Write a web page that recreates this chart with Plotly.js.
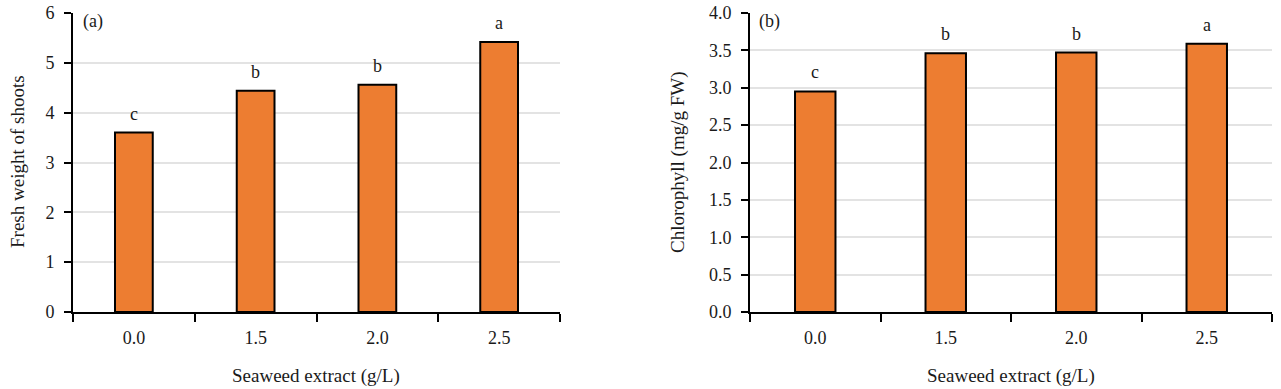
<!DOCTYPE html>
<html>
<head>
<meta charset="utf-8">
<script src="https://cdn.plot.ly/plotly-3.0.1.min.js"></script>
<style>html,body{margin:0;padding:0;background:#fff;}#chart{width:1281px;height:389px;}</style>
</head>
<body>
<div id="chart"></div>
<script>
// ---- data ----
const categories = ["0.0", "1.5", "2.0", "2.5"];
const freshWeight = [3.60, 4.44, 4.56, 5.42];
const freshLetters = ["c", "b", "b", "a"];
const chlorophyll = [2.95, 3.46, 3.47, 3.59];
const chloroLetters = ["c", "b", "b", "a"];
const panelLabels = ["(a)", "(b)"];
const xTitle = "Seaweed extract (g/L)";
const yTitleA = "Fresh weight of shoots";
const yTitleB = "Chlorophyll (mg/g FW)";
const yTicksA = [0, 1, 2, 3, 4, 5, 6];
const yTicksB = [0, 0.5, 1, 1.5, 2, 2.5, 3, 3.5, 4];

const W = 1281, H = 389;
const FONT = "Liberation Serif, Times New Roman, serif";
const TXT = "#1a1a1a";
const orange = "#ED7D31";

const barStyle = {
  type: "bar",
  marker: {color: orange, line: {color: "#000", width: 2}},
  width: 0.31,
  hoverinfo: "skip"
};

const traces = [
  Object.assign({}, barStyle, {x: categories, y: freshWeight, xaxis: "x", yaxis: "y"}),
  Object.assign({}, barStyle, {x: categories, y: chlorophyll, xaxis: "x2", yaxis: "y2"})
];

const yDom = [1 - 312 / H, 1 - 13 / H];

function xaxisDef(domain, anchor) {
  return {
    domain: domain,
    anchor: anchor,
    type: "category",
    tickson: "boundaries",
    ticks: "outside",
    ticklen: 8,
    tickwidth: 2,
    tickcolor: "#000",
    ticklabelstandoff: 8,
    showline: true,
    linecolor: "#000",
    linewidth: 2,
    showgrid: false,
    zeroline: false,
    tickfont: {family: FONT, size: 18, color: TXT},
    fixedrange: true
  };
}
function yaxisDef(range, ticks, fmt, anchor) {
  return {
    domain: yDom,
    anchor: anchor,
    range: range,
    tickvals: ticks,
    tickformat: fmt,
    ticks: "outside",
    ticklen: 7,
    tickwidth: 2,
    tickcolor: "#000",
    ticklabelstandoff: 6,
    showline: true,
    linecolor: "#000",
    linewidth: 2,
    showgrid: true,
    gridcolor: "#e3e3e3",
    gridwidth: 2,
    zeroline: false,
    tickfont: {family: FONT, size: 18, color: TXT},
    fixedrange: true
  };
}

const annotations = [];
categories.forEach((c, i) => {
  annotations.push({xref: "x", yref: "y", x: i, y: freshWeight[i], text: freshLetters[i],
    showarrow: false, yanchor: "bottom", yshift: 7, font: {family: FONT, size: 18, color: TXT}});
  annotations.push({xref: "x2", yref: "y2", x: i, y: chlorophyll[i], text: chloroLetters[i],
    showarrow: false, yanchor: "bottom", yshift: 7, font: {family: FONT, size: 18, color: TXT}});
});
annotations.push({xref: "paper", yref: "paper", x: 81 / W, y: 1 - 9 / H, xanchor: "left", yanchor: "top",
  text: panelLabels[0], showarrow: false, font: {family: FONT, size: 18, color: TXT}});
annotations.push({xref: "paper", yref: "paper", x: 757 / W, y: 1 - 9 / H, xanchor: "left", yanchor: "top",
  text: panelLabels[1], showarrow: false, font: {family: FONT, size: 18, color: TXT}});
annotations.push({xref: "paper", yref: "paper", x: 17 / W, y: 1 - 162 / H, xanchor: "center", yanchor: "middle",
  text: yTitleA, textangle: -90, showarrow: false, font: {family: FONT, size: 19, color: TXT}});
annotations.push({xref: "paper", yref: "paper", x: 678 / W, y: 1 - 162 / H, xanchor: "center", yanchor: "middle",
  text: yTitleB, textangle: -90, showarrow: false, font: {family: FONT, size: 19, color: TXT}});
annotations.push({xref: "paper", yref: "paper", x: 316 / W, y: 1 - 376 / H, xanchor: "center", yanchor: "middle",
  text: xTitle, showarrow: false, font: {family: FONT, size: 19, color: TXT}});
annotations.push({xref: "paper", yref: "paper", x: 1011 / W, y: 1 - 376 / H, xanchor: "center", yanchor: "middle",
  text: xTitle, showarrow: false, font: {family: FONT, size: 19, color: TXT}});

const layout = {
  width: W, height: H,
  margin: {l: 0, r: 0, t: 0, b: 0},
  paper_bgcolor: "#fff",
  plot_bgcolor: "#fff",
  showlegend: false,
  xaxis: xaxisDef([73 / W, 560 / W], "y"),
  xaxis2: xaxisDef([750 / W, 1272 / W], "y2"),
  yaxis: yaxisDef([0, 6], yTicksA, "d", "x"),
  yaxis2: yaxisDef([0, 4], yTicksB, ".1f", "x2"),
  annotations: annotations
};

Plotly.newPlot("chart", traces, layout, {displayModeBar: false, staticPlot: true});
</script>
</body>
</html>
